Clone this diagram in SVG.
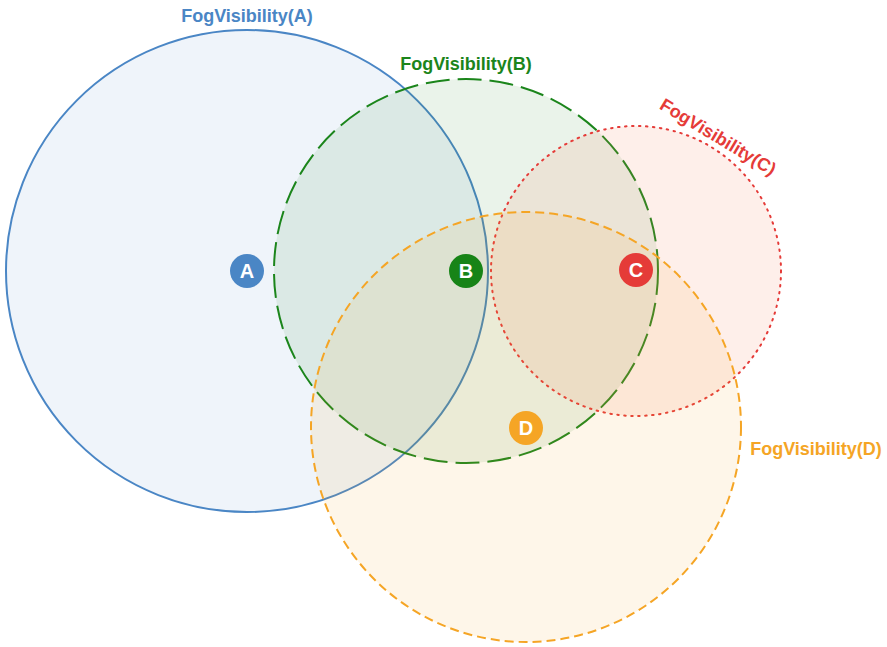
<svg xmlns="http://www.w3.org/2000/svg" width="887" height="647" viewBox="0 0 887 647">
<style>
.lbl{font-family:"Liberation Sans",Arial,sans-serif;font-weight:bold;font-size:18px;text-anchor:middle}
.bt{font-family:"Liberation Sans",Arial,sans-serif;font-weight:bold;font-size:20px;fill:#fff;text-anchor:middle}
</style>
<rect width="887" height="647" fill="#fff"/>
<g id="setA">
<circle cx="247" cy="271" r="241" fill="#4a86c8" fill-opacity="0.09" stroke="#4a86c5" stroke-width="2"/>
<text class="lbl" x="247" y="22" fill="#4a86c5">FogVisibility(A)</text>
</g>
<g id="setB">
<circle cx="466" cy="271" r="192" fill="#2e8b2e" fill-opacity="0.1" stroke="#1b851b" stroke-width="2" stroke-dasharray="24 8"/>
<text class="lbl" x="466" y="70" fill="#1b851b">FogVisibility(B)</text>
</g>
<g id="setC">
<circle cx="636" cy="271" r="145" fill="#f4815a" fill-opacity="0.13" stroke="#e53b38" stroke-width="2" stroke-dasharray="1.5 5.5" stroke-linecap="round"/>
<text class="lbl" transform="translate(718,137) rotate(31)" x="0" y="6" fill="#e53b38">FogVisibility(C)</text>
</g>
<g id="setD">
<circle cx="526" cy="427" r="215" fill="#f5a623" fill-opacity="0.1" stroke="#f5a525" stroke-width="2" stroke-dasharray="9 5"/>
<text class="lbl" x="816" y="455" fill="#f5a525">FogVisibility(D)</text>
</g>
<g id="badgeA"><circle cx="247" cy="271" r="17" fill="#4a86c5"/><text class="bt" x="247" y="278">A</text></g>
<g id="badgeB"><circle cx="466" cy="271" r="17" fill="#178417"/><text class="bt" x="466" y="278">B</text></g>
<g id="badgeC"><circle cx="636" cy="270" r="17" fill="#e53b38"/><text class="bt" x="636" y="277">C</text></g>
<g id="badgeD"><circle cx="526" cy="428" r="17" fill="#f5a525"/><text class="bt" x="526" y="435">D</text></g>
<g id="connectors"/>
</svg>
